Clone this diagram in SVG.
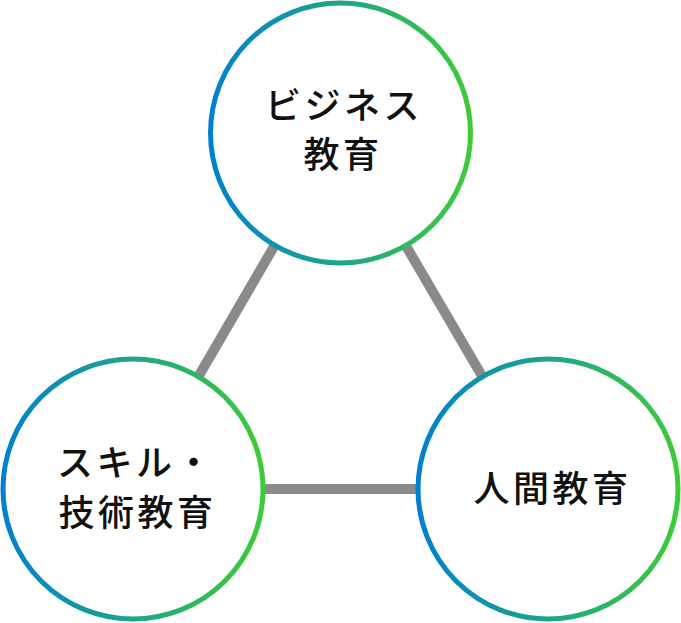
<svg xmlns="http://www.w3.org/2000/svg" width="681" height="623" viewBox="0 0 681 623">
<defs>
<linearGradient id="ring" x1="0" y1="0" x2="1" y2="0">
<stop offset="0" stop-color="#0080d2"/>
<stop offset="1" stop-color="#3ccc38"/>
</linearGradient>
<style>
.ring{fill:#fff;stroke:url(#ring);stroke-width:5}
.edge{stroke:#8a8a8a;stroke-width:10;fill:none}
.lbl{font-family:"Noto Sans CJK JP","Noto Sans",sans-serif;font-size:36px;font-weight:500;letter-spacing:3.5px;fill:#111;text-anchor:middle}
</style>
</defs>
<g id="connectors">
<line class="edge" x1="340" y1="133" x2="133" y2="489"/>
<line class="edge" x1="340" y1="133" x2="548" y2="489"/>
<line class="edge" x1="133" y1="489" x2="548" y2="489"/>
</g>
<g id="node-business">
<circle class="ring" cx="340.5" cy="133" r="130"/>
<text class="lbl" x="344" y="119">ビジネス</text>
<text class="lbl" x="343" y="168">教育</text>
</g>
<g id="node-skill">
<circle class="ring" cx="133" cy="489" r="130"/>
<text class="lbl" x="136" y="476">スキル・</text>
<text class="lbl" x="137.5" y="526">技術教育</text>
</g>
<g id="node-human">
<circle class="ring" cx="548" cy="489" r="130"/>
<text class="lbl" x="552.5" y="502">人間教育</text>
</g>
</svg>
